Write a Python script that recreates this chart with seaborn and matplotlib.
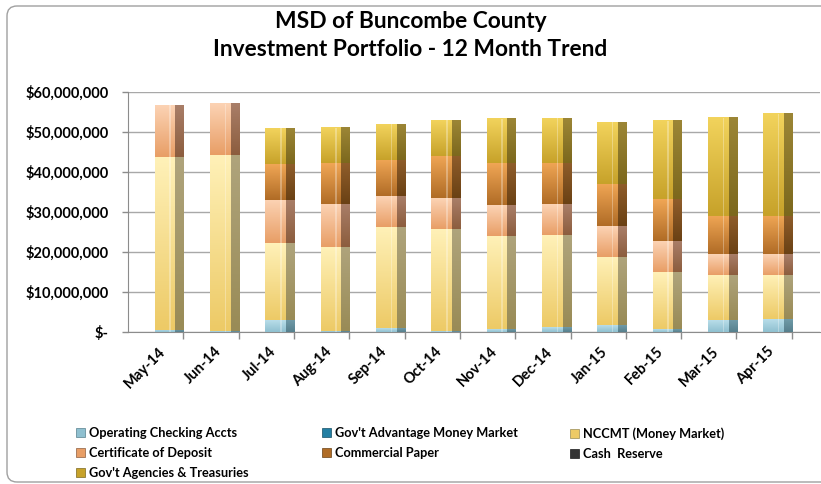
import numpy as np
import pandas as pd
import seaborn as sns
import matplotlib.pyplot as plt
from matplotlib.patches import Patch, FancyBboxPatch, Rectangle
from matplotlib.colors import to_rgb
from matplotlib.ticker import FuncFormatter
from matplotlib.transforms import IdentityTransform

months = ["May-14", "Jun-14", "Jul-14", "Aug-14", "Sep-14", "Oct-14",
          "Nov-14", "Dec-14", "Jan-15", "Feb-15", "Mar-15", "Apr-15"]

# values in millions of dollars
operating = [0.6, 0.2, 3.0, 0.3, 0.9, 0.2, 0.7, 1.2, 1.7, 0.75, 3.0, 3.25]
gov_adv = [0, 0, 0, 0, 0, 0, 0, 0, 0, 0, 0, 0]
nccmt = [43.1, 44.0, 19.2, 21.0, 25.3, 25.55, 23.3, 23.0, 17.05, 14.25, 11.3, 11.05]
cd = [13.0, 12.9, 10.8, 10.8, 7.7, 7.65, 7.75, 7.7, 7.65, 7.7, 5.1, 5.1]
cp = [0, 0, 9.0, 10.1, 9.1, 10.6, 10.5, 10.4, 10.7, 10.5, 9.5, 9.5]
cash = [0, 0, 0, 0, 0, 0, 0, 0, 0, 0, 0, 0]
agencies = [0, 0, 8.9, 8.9, 8.9, 9.0, 11.05, 11.1, 15.5, 19.55, 24.6, 25.7]

series = ["Operating Checking Accts", "Gov't Advantage Money Market", "NCCMT (Money Market)",
          "Certificate of Deposit", "Commercial Paper", "Cash  Reserve",
          "Gov't Agencies & Treasuries"]
values = [operating, gov_adv, nccmt, cd, cp, cash, agencies]

# (front top, front bottom, side top, side bottom)
shades = {
    "Operating Checking Accts": ("#b8dde9", "#8fc0d0", "#6f9aa8", "#57808d"),
    "Gov't Advantage Money Market": ("#3a9bc0", "#237fa3", "#1d6682", "#165066"),
    "NCCMT (Money Market)": ("#fff1b8", "#edca66", "#afa47c", "#998b56"),
    "Certificate of Deposit": ("#fcd3b4", "#e89e66", "#a97e68", "#8c5d3e"),
    "Commercial Paper": ("#f0a655", "#b06c26", "#8f5d2b", "#6a4114"),
    "Cash  Reserve": ("#555555", "#333333", "#2a2a2a", "#1a1a1a"),
    "Gov't Agencies & Treasuries": ("#f2d35c", "#c7a22a", "#9c8636", "#7c681d"),
}

df = pd.DataFrame({"month": months})
for name, vals in zip(series, values):
    df[name] = np.array(vals) * 1e6

plt.rcParams['font.family'] = ['Lato', 'DejaVu Sans']
plt.rcParams['font.weight'] = 'bold'

fig = plt.figure(figsize=(8.21, 4.84), dpi=100)
ax = fig.add_axes([128 / 821, 1 - 332 / 484, (820 - 128) / 821, 240 / 484])


def grad(c_top, c_bot, n=64):
    t = np.linspace(0, 1, n)[:, None, None]
    return np.array(to_rgb(c_bot)) * (1 - t) + np.array(to_rgb(c_top)) * t


bottom = np.zeros(len(months))
for name in series:
    n0 = len(ax.patches)
    ft, fb, st, sb = shades[name]
    sns.barplot(data=df, x="month", y=name, order=months, color=fb, width=0.53,
                bottom=bottom, saturation=1, linewidth=0, ax=ax, zorder=2)
    for p in ax.patches[n0:]:
        x0, y0, w, h = p.get_x(), p.get_y(), p.get_width(), p.get_height()
        if h <= 0:
            continue
        ax.imshow(grad(ft, fb), extent=[x0, x0 + 0.7 * w, y0, y0 + h], origin="lower",
                  aspect="auto", interpolation="bilinear", zorder=3)
        ax.imshow(grad(st, sb), extent=[x0 + 0.7 * w, x0 + w, y0, y0 + h], origin="lower",
                  aspect="auto", interpolation="bilinear", zorder=3)
        ax.add_patch(Rectangle((x0 + 0.5 * w, y0), 0.05 * w, h, color="white",
                               alpha=0.3, lw=0, zorder=4))
    bottom = bottom + df[name].values

ax.set_xlim(-0.75, 11.76)
ax.set_ylim(0, 60e6)
ax.set_yticks(np.arange(0, 60e6 + 1, 10e6))
ax.yaxis.set_major_formatter(FuncFormatter(lambda v, _: "$-" if v == 0 else f"${v:,.0f}"))
ax.set_xticks(np.arange(len(months)) - 0.2)
ax.set_xticklabels(months, rotation=45, ha="right", rotation_mode="anchor")
ax.set_xticks(np.arange(len(months)) + 0.25, minor=True)
ax.tick_params(axis="x", which="major", length=0, pad=9, labelsize=10.5)
ax.tick_params(axis="x", which="minor", length=5, color="#8c8c8c", width=1)
ax.tick_params(axis="y", length=4, color="#8c8c8c", width=1, pad=10, labelsize=10.5)
ax.yaxis.grid(True, color="#a8a8a8", lw=1)
ax.set_axisbelow(True)
for s in ["top", "right"]:
    ax.spines[s].set_visible(False)
for s in ["left", "bottom"]:
    ax.spines[s].set_color("#8c8c8c")
ax.set_xlabel("")
ax.set_ylabel("")

fig.text(0.5, 1 - 22 / 484, "MSD of Buncombe County", ha="center", va="center",
         fontsize=16.4, fontweight="bold")
fig.text(0.5, 1 - 50 / 484, "Investment Portfolio - 12 Month Trend", ha="center", va="center",
         fontsize=16.4, fontweight="bold")

# legend in three columns
cols = [[0, 3, 6], [1, 4], [2, 5]]
col_x = [76, 322, 570]
for idx, xpx in zip(cols, col_x):
    handles = [Patch(facecolor=shades[series[i]][1], edgecolor=shades[series[i]][3], lw=0.5,
                     label=series[i]) for i in idx]
    fig.legend(handles=handles, loc="upper left", bbox_to_anchor=(xpx / 821, 1 - 427 / 484),
               frameon=False, fontsize=9.2, handlelength=0.7, handleheight=0.7,
               handletextpad=0.3, labelspacing=0.62, borderpad=0, borderaxespad=0)

frame = FancyBboxPatch((7, 2), 840, 476, boxstyle="round,pad=0,rounding_size=10",
                       transform=IdentityTransform(), fill=False, edgecolor="#a0a0a0", lw=1)
fig.add_artist(frame)

fig.savefig("out.png", dpi=100)
plt.close()
